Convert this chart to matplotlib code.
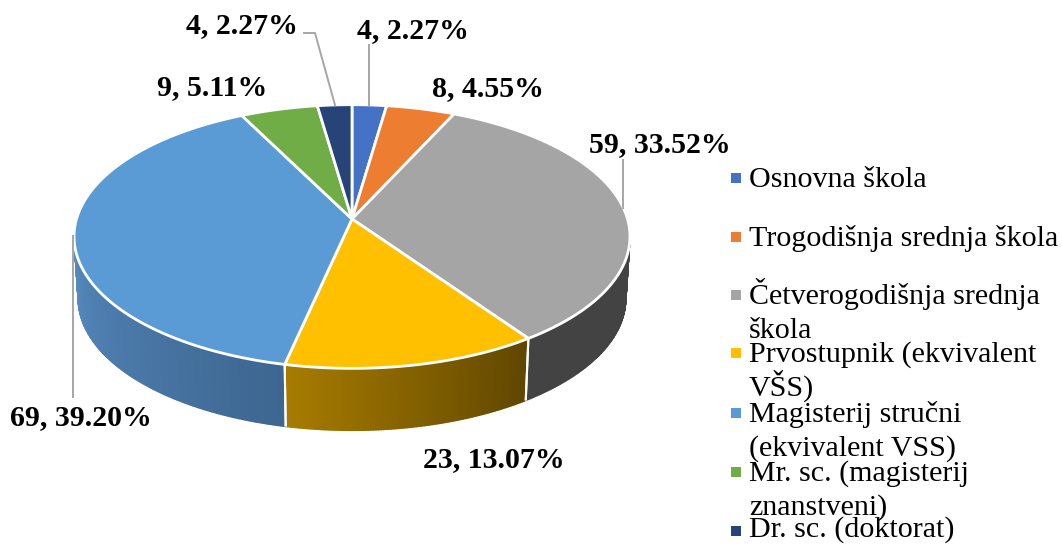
import numpy as np
import matplotlib
matplotlib.use("Agg")
import matplotlib.pyplot as plt
from matplotlib.patches import Polygon, Rectangle

plt.rcParams['font.family'] = ['Liberation Serif', 'DejaVu Serif']

# data
categories = [["Osnovna škola"], ["Trogodišnja srednja škola"],
              ["Četverogodišnja srednja", "škola"], ["Prvostupnik (ekvivalent", "VŠS)"],
              ["Magisterij stručni", "(ekvivalent VSS)"], ["Mr. sc. (magisterij", "znanstveni)"],
              ["Dr. sc. (doktorat)"]]
counts = [4, 8, 59, 23, 69, 9, 4]
colors = ["#4472C4", "#ED7D31", "#A5A5A5", "#FFC000", "#5B9BD5", "#70AD47", "#264478"]
side_left = ["#33558f", "#b25d25", "#434343", "#a87c00", "#568abf", "#54823a", "#1c335a"]
side_right = ["#33558f", "#b25d25", "#434343", "#5f4600", "#3d6690", "#54823a", "#1c335a"]

label_pos = [(413, 38), (488, 96), (660, 152), (494, 467), (81, 425), (212, 95), (242, 33)]
legend_y = [178, 237, 295, 353, 413, 472, 531]

# pie geometry, in pixels
cx, cy = 352, 219
rx, ry, k = 275.5, 129.5, 0.133
depth = 62
squeeze = 0.985


def top_edge(t):
    d = 1 + k * np.cos(t)
    return cx + rx * np.sin(t) / d, cy - ry * np.cos(t) / d


def low_edge(t):
    x, y = top_edge(t)
    return cx + (x - cx) * squeeze, y + depth


def mix(c1, c2, f):
    a = np.array(matplotlib.colors.to_rgb(c1))
    b = np.array(matplotlib.colors.to_rgb(c2))
    return a + (b - a) * f


fig = plt.figure(figsize=(10.62, 5.44), dpi=100)
ax = fig.add_axes([0, 0, 1, 1])
ax.set_xlim(0, 1062)
ax.set_ylim(544, 0)
ax.axis("off")

total = sum(counts)
bounds = np.concatenate([[0], np.cumsum(counts)]) / total * 2 * np.pi
t_right = np.arccos(-k)
t_left = 2 * np.pi - t_right

# sides first
for i in range(len(counts)):
    a = max(bounds[i], t_right)
    b = min(bounds[i + 1], t_left)
    if b <= a:
        continue
    ts = np.linspace(a, b, int((b - a) * 120) + 2)
    for j in range(len(ts) - 1):
        x0, y0 = top_edge(ts[j])
        x1, y1 = top_edge(ts[j + 1])
        x2, y2 = low_edge(ts[j + 1])
        x3, y3 = low_edge(ts[j])
        c = mix(side_left[i], side_right[i], (b - ts[j]) / (b - a))
        ax.add_patch(Polygon([(x0, y0), (x1, y1), (x2, y2), (x3, y3)], closed=True,
                             facecolor=c, edgecolor=c, linewidth=1.0))
    for t in (bounds[i], bounds[i + 1]):
        if t_right < t < t_left:
            ax.plot([top_edge(t)[0], low_edge(t)[0]], [top_edge(t)[1], low_edge(t)[1]],
                    color="white", lw=1.5, solid_capstyle="butt", zorder=3)

# top face
for i in range(len(counts)):
    ts = np.linspace(bounds[i], bounds[i + 1], 120)
    x, y = top_edge(ts)
    pts = np.column_stack([np.r_[cx, x], np.r_[cy, y]])
    ax.add_patch(Polygon(pts, closed=True, facecolor=colors[i], edgecolor="white",
                         linewidth=2.0, joinstyle="round", zorder=4))

# leader lines
leaders = [([369, 369], [45, 105]), ([304, 315, 335], [33, 33, 105]),
           ([623, 623], [160, 208]), ([73, 73], [236, 397])]
for xs, ys in leaders:
    ax.plot(xs, ys, color="#A6A6A6", lw=1.4, zorder=5)

# data labels
for v, (x, y) in zip(counts, label_pos):
    ax.text(x, y, f"{v}, {v / total * 100:.2f}%", fontsize=21.5, fontweight="bold",
            ha="center", va="baseline", color="black", zorder=6)

# legend
for lines, col, y in zip(categories, colors, legend_y):
    ax.add_patch(Rectangle((731, y - 5), 10, 10, facecolor=col, edgecolor="none"))
    for n, line in enumerate(lines):
        ax.text(749, min(y + 9 + n * 34, 537), line, fontsize=21.6, ha="left", va="baseline", color="black")

fig.savefig("out.png", dpi=100, facecolor="white")
